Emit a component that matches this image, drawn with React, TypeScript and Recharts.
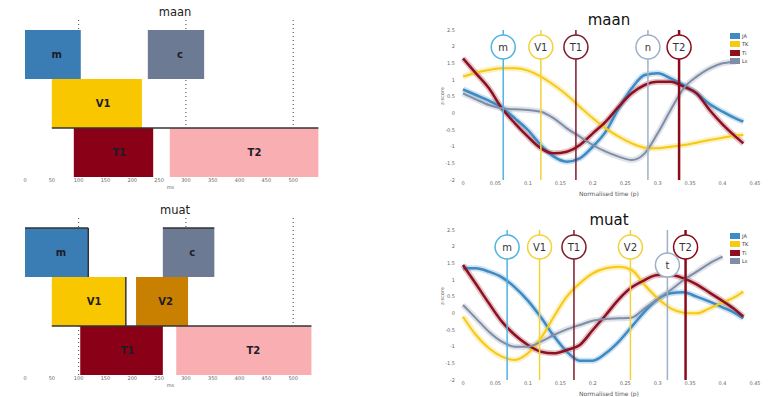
import {
  BarChart,
  Bar,
  XAxis,
  YAxis,
  CartesianGrid,
  Cell,
  LabelList,
  LineChart,
  Line,
  ReferenceLine,
} from 'recharts';

const FONT = '"DejaVu Sans", sans-serif';

// Phase timing (ms): [label, row, start, end]
const MAAN_PHASES: [string, string, number, number][] = [
  ['m', 'r1', 0, 104],
  ['c', 'r1', 229, 334],
  ['V1', 'r2', 50, 218],
  ['T1', 'r3', 91, 239],
  ['T2', 'r3', 270, 547],
];
const MUAT_PHASES: [string, string, number, number][] = [
  ['m', 'r1', 0, 118],
  ['c', 'r1', 257, 353],
  ['V1', 'r2', 50, 188],
  ['V2', 'r2', 207, 304],
  ['T1', 'r3', 103, 257],
  ['T2', 'r3', 282, 534],
];
const ROWS = ['r1', 'r2', 'r3'];
const MS_TICKS = [0, 50, 100, 150, 200, 250, 300, 350, 400, 450, 500];
const MS_GRID = [100, 300, 500];

// Normalised time samples shared by all traces
const TIME = [
  0, 0.02, 0.04, 0.06, 0.08, 0.1, 0.12, 0.14, 0.16, 0.18, 0.2, 0.22, 0.24, 0.26, 0.28, 0.3, 0.32,
  0.34, 0.36, 0.38, 0.4, 0.42, 0.432,
];
const T_TICKS = [0, 0.05, 0.1, 0.15, 0.2, 0.25, 0.3, 0.35, 0.4, 0.45];
const Z_TICKS = [-2, -1.5, -1, -0.5, 0, 0.5, 1, 1.5, 2, 2.5];

const MAAN_JA = [0.72, 0.55, 0.38, 0.17, -0.15, -0.5, -0.95, -1.3, -1.45, -1.35, -1.0, -0.55, 0.15, 0.75, 1.15, 1.2, 1.05, 0.85, 0.6, 0.28, 0.05, -0.15, -0.25];
const MAAN_TK = [1.1, 1.22, 1.3, 1.35, 1.35, 1.28, 1.1, 0.85, 0.55, 0.2, -0.15, -0.45, -0.7, -0.9, -1.03, -1.05, -1.0, -0.95, -0.88, -0.8, -0.73, -0.67, -0.65];
const MAAN_TI = [1.65, 1.2, 0.75, 0.15, -0.3, -0.7, -1.05, -1.2, -1.15, -0.95, -0.6, -0.25, 0.2, 0.6, 0.85, 0.95, 0.95, 0.8, 0.6, 0.1, -0.33, -0.7, -0.9];
const MAAN_LS = [0.6, 0.42, 0.25, 0.15, 0.12, 0.1, 0.05, -0.15, -0.45, -0.7, -0.95, -1.15, -1.3, -1.4, -1.2, -0.6, 0.1, 0.75, 1.1, 1.35, 1.5, 1.55, null];

const MUAT_JA = [1.35, 1.35, 1.25, 1.08, 0.78, 0.38, -0.12, -0.68, -1.15, -1.42, -1.42, -1.2, -0.85, -0.4, 0.05, 0.42, 0.6, 0.63, 0.5, 0.35, 0.18, 0.0, -0.15];
const MUAT_TK = [-0.1, -0.65, -1.05, -1.3, -1.4, -1.2, -0.75, -0.1, 0.5, 0.9, 1.2, 1.35, 1.4, 1.3, 0.85, 0.45, 0.15, 0.02, 0.0, 0.15, 0.32, 0.5, 0.65];
const MUAT_TI = [1.45, 0.88, 0.3, -0.25, -0.65, -0.95, -1.15, -1.2, -1.1, -0.95, -0.5, -0.05, 0.42, 0.78, 1.0, 1.15, 1.15, 1.05, 0.87, 0.62, 0.37, 0.1, -0.1];
const MUAT_LS = [0.25, -0.15, -0.55, -0.85, -1.0, -1.0, -0.85, -0.65, -0.48, -0.35, -0.22, -0.17, -0.15, -0.13, 0.15, 0.42, 0.7, 1.0, 1.25, 1.5, 1.7, null, null];

// Event markers: [label, time, colour key, badge drop]
const MAAN_EVENTS: [string, number, string, number][] = [
  ['m', 0.062, 'm', 17],
  ['V1', 0.12, 'V', 17],
  ['T1', 0.174, 'T1', 17],
  ['n', 0.285, 'c', 17],
  ['T2', 0.333, 'T2', 17],
];
const MUAT_EVENTS: [string, number, string, number][] = [
  ['m', 0.068, 'm', 17],
  ['V1', 0.118, 'V', 17],
  ['T1', 0.171, 'T1', 17],
  ['V2', 0.258, 'V', 17],
  ['t', 0.315, 'c', 35],
  ['T2', 0.343, 'T2', 17],
];

const PHASE_FILL: Record<string, string> = {
  m: '#3a7db5',
  c: '#6c7a94',
  V1: '#f8c700',
  V2: '#c98000',
  T1: '#8a0016',
  T2: '#f9aeb1',
};
const EVENT_STROKE: Record<string, string> = {
  m: '#4fb4e2',
  V: '#f2d23a',
  T1: '#7e1a2b',
  c: '#9fb0c8',
  T2: '#8a0a1a',
};
const SERIES = [
  { key: 'ja', name: 'JA', color: '#3d8ac4', width: 2.5 },
  { key: 'tk', name: 'TK', color: '#f6c913', width: 2 },
  { key: 'ti', name: 'Ti', color: '#8e1020', width: 2.5 },
  { key: 'ls', name: 'Ls', color: '#7f8ea6', width: 2 },
];

// rect with optional dark top / right edges
function makePhaseShape(slot: 'a' | 'b', outlined: boolean) {
  return (props: any) => {
    const { x, y, width, height, fill, payload } = props;
    if (!payload || !payload[slot]) return <g />;
    const top = outlined && payload.row === 'r1';
    const right = outlined && slot === 'a' && payload.row !== 'r3';
    return (
      <g>
        <rect x={x} y={y} width={width} height={height} fill={fill} />
        {top && <line x1={x} x2={x + width} y1={y} y2={y} stroke="#333" strokeWidth={1.5} />}
        {right && <line x1={x + width} x2={x + width} y1={y} y2={y + height} stroke="#333" strokeWidth={1.5} />}
      </g>
    );
  };
}

function EdgeShape(props: any) {
  const { x, y, width, payload } = props;
  if (!payload || !payload.edge) return <g />;
  return <line x1={x} x2={x + width} y1={y} y2={y} stroke="#333" strokeWidth={1.5} />;
}

// phase name, set a little right of the box centre
function PhaseLabel(props: any) {
  const { x, y, width, height, value } = props;
  if (!value) return null;
  return (
    <text
      x={x + width * 0.57}
      y={y + height / 2 + 3.5}
      textAnchor="middle"
      fontSize={10}
      fontWeight="bold"
      fill="#1c1c2a"
      fontFamily={FONT}
    >
      {value}
    </text>
  );
}

function PhaseChart({
  title,
  phases,
  outlined = false,
}: {
  title: string;
  phases: [string, string, number, number][];
  outlined?: boolean;
}) {
  const v1 = phases.find((p) => p[0] === 'V1')!;
  const t2 = phases.find((p) => p[0] === 'T2')!;
  const data = ROWS.map((row) => {
    const inRow = phases.filter((p) => p[1] === row);
    return {
      row,
      a: inRow[0] ? [inRow[0][2], inRow[0][3]] : null,
      aName: inRow[0] ? inRow[0][0] : '',
      b: inRow[1] ? [inRow[1][2], inRow[1][3]] : null,
      bName: inRow[1] ? inRow[1][0] : '',
      edge: row === 'r3' ? [v1[2], t2[3]] : null,
    };
  });

  return (
    <div style={{ position: 'relative', width: 330, height: 195 }}>
      <div style={{ position: 'absolute', left: 20, width: 310, top: 5, textAlign: 'center', fontSize: 11.5, color: '#222' }}>
        {title}
      </div>
      <BarChart
        width={330}
        height={195}
        data={data}
        layout="vertical"
        margin={{ top: 20, right: 10, bottom: 0, left: 25 }}
        barCategoryGap={0}
        barGap="-100%"
      >
        <CartesianGrid horizontal={false} verticalValues={MS_GRID} stroke="#444" strokeDasharray="1 3" />
        <XAxis
          type="number"
          domain={[0, 550]}
          ticks={MS_TICKS}
          axisLine={false}
          tickLine={false}
          tickSize={0}
          tickMargin={1}
          tick={{ fontSize: 5, fill: '#666' }}
          height={18}
          label={{ value: 'ms', position: 'insideBottom', offset: 6, fontSize: 5, fill: '#666', dx: -2 }}
        />
        <YAxis type="category" dataKey="row" hide padding={{ top: 10, bottom: 0 }} />
        <Bar dataKey="a" isAnimationActive={false} shape={makePhaseShape('a', outlined)}>
          {data.map((d, i) => (
            <Cell key={i} fill={PHASE_FILL[d.aName] ?? '#fff'} />
          ))}
          <LabelList dataKey="aName" content={PhaseLabel} />
        </Bar>
        <Bar dataKey="b" isAnimationActive={false} shape={makePhaseShape('b', outlined)}>
          {data.map((d, i) => (
            <Cell key={i} fill={PHASE_FILL[d.bName] ?? '#fff'} />
          ))}
          <LabelList dataKey="bName" content={PhaseLabel} />
        </Bar>
        <Bar dataKey="edge" isAnimationActive={false} shape={EdgeShape} />
      </BarChart>
    </div>
  );
}

function EventBadge(props: any) {
  const { viewBox, text, color, drop } = props;
  const cx = viewBox.x;
  const cy = viewBox.y + drop;
  return (
    <g>
      <circle cx={cx} cy={cy} r={12} fill="#fff" stroke={color} strokeWidth={1.5} />
      <text x={cx} y={cy + 3.5} textAnchor="middle" fontSize={10} fill="#333" fontFamily={FONT}>
        {text}
      </text>
    </g>
  );
}

function TraceChart({
  title,
  series,
  events,
}: {
  title: string;
  series: (number | null)[][];
  events: [string, number, string, number][];
}) {
  const data = TIME.map((t, i) => ({
    t,
    ja: series[0][i],
    tk: series[1][i],
    ti: series[2][i],
    ls: series[3][i],
  }));

  return (
    <div style={{ position: 'relative', width: 340, height: 197 }}>
      <div style={{ position: 'absolute', left: 33, width: 292, top: 11, textAlign: 'center', fontSize: 15, color: '#111' }}>
        {title}
      </div>
      <LineChart width={340} height={197} data={data} margin={{ top: 30, right: 15, bottom: 0, left: 8 }}>
        <XAxis
          type="number"
          dataKey="t"
          domain={[0, 0.45]}
          ticks={T_TICKS}
          axisLine={false}
          tickLine={false}
          tickSize={0}
          tickMargin={1}
          tick={{ fontSize: 5, fill: '#666' }}
          height={17}
          label={{ value: 'Normalised time (p)', position: 'insideBottom', offset: 1, fontSize: 6, fill: '#555' }}
        />
        <YAxis
          domain={[-2, 2.5]}
          ticks={Z_TICKS}
          width={25}
          axisLine={false}
          tickLine={false}
          tick={{ fontSize: 5, fill: '#666' }}
          label={{ value: 'z-score', angle: -90, position: 'insideLeft', offset: 4, fontSize: 5, fill: '#666' }}
        />
        {SERIES.map((s) => (
          <Line
            key={s.key + '-band'}
            dataKey={s.key}
            type="monotone"
            stroke={s.color}
            strokeOpacity={0.25}
            strokeWidth={6}
            dot={false}
            isAnimationActive={false}
          />
        ))}
        {SERIES.map((s) => (
          <Line
            key={s.key}
            dataKey={s.key}
            type="monotone"
            stroke={s.color}
            strokeWidth={s.width}
            dot={false}
            isAnimationActive={false}
          />
        ))}
        {events.map(([label, t, colorKey, drop]) => (
          <ReferenceLine
            key={label}
            x={t}
            stroke={EVENT_STROKE[colorKey]}
            strokeWidth={colorKey === 'T2' ? 2.5 : 1.5}
            label={<EventBadge text={label} color={EVENT_STROKE[colorKey]} drop={drop} />}
          />
        ))}
      </LineChart>
      <div style={{ position: 'absolute', left: 300, top: 32 }}>
        {SERIES.map((s) => (
          <div key={s.key} style={{ display: 'flex', alignItems: 'center', height: 8.3 }}>
            <div style={{ width: 10, height: 6, background: s.color }} />
            <span style={{ fontSize: 5, marginLeft: 2, color: '#333' }}>{s.name}</span>
          </div>
        ))}
      </div>
    </div>
  );
}

export default function App() {
  return (
    <div style={{ position: 'absolute', left: 0, top: 0, width: 770, height: 397, background: '#fff', fontFamily: FONT }}>
      <div style={{ position: 'absolute', left: 0, top: 0 }}>
        <PhaseChart title="maan" phases={MAAN_PHASES} />
      </div>
      <div style={{ position: 'absolute', left: 0, top: 198 }}>
        <PhaseChart title="muat" phases={MUAT_PHASES} outlined />
      </div>
      <div style={{ position: 'absolute', left: 430, top: 0 }}>
        <TraceChart title="maan" series={[MAAN_JA, MAAN_TK, MAAN_TI, MAAN_LS]} events={MAAN_EVENTS} />
      </div>
      <div style={{ position: 'absolute', left: 430, top: 200 }}>
        <TraceChart title="muat" series={[MUAT_JA, MUAT_TK, MUAT_TI, MUAT_LS]} events={MUAT_EVENTS} />
      </div>
    </div>
  );
}
